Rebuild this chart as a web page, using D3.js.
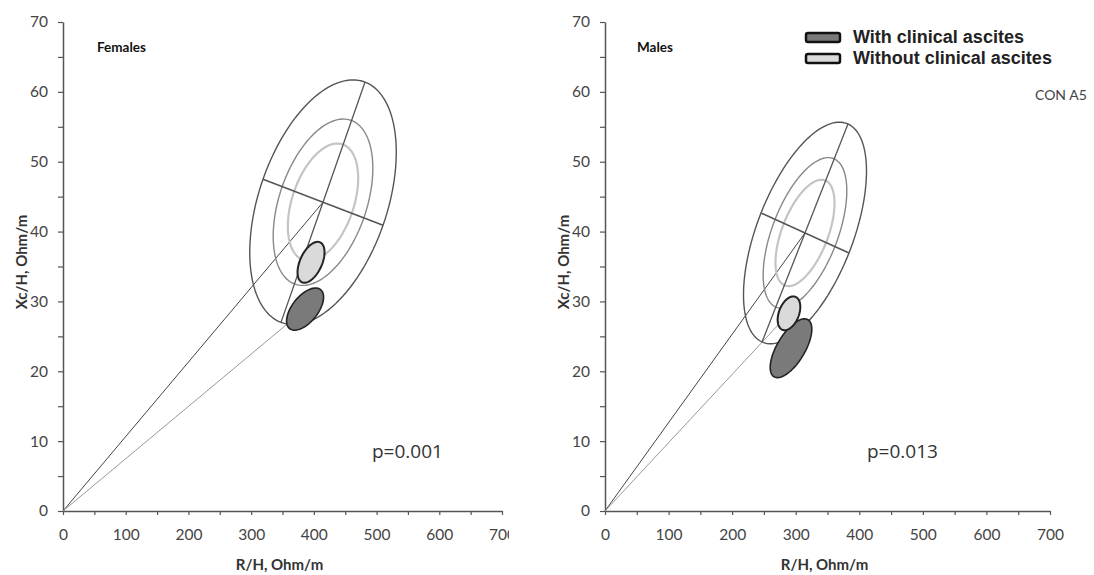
<!DOCTYPE html>
<html>
<head>
<meta charset="utf-8">
<script src="https://cdnjs.cloudflare.com/ajax/libs/d3/7.8.5/d3.min.js"></script>
<style>
  body { margin: 0; background: #fff; }
  svg { display: block; }
</style>
</head>
<body>
<script>
var width = 1094, height = 575;

// panels and their reference (tolerance) ellipses, in data units
var panels = ["Females", "Males"];
var pValues = ["p=0.001", "p=0.013"];
var refCenter = [[414.6, 44.2], [314.6, 39.8]];
var refMajor  = [[67.0, 17.2], [67.6, 15.6]];   // half-axis vector (to top)
var refMinor  = [[95.7, -3.3], [69.2, -2.86]];  // half-axis vector (to right)
var levels = [0.48, 0.68, 1];                   // 50%, 75%, 95% tolerance

// group confidence ellipses
var withCenter    = [[386.0, 28.9], [292.6, 23.3]];
var withMajor     = [[24.7, 2.79], [26.7, 4.08]];
var withMinor     = [[16.1, -1.15], [18.9, -1.03]];
var withoutCenter = [[395.5, 35.6], [289.4, 28.3]];
var withoutMajor  = [[14.4, 2.86], [10.2, 2.36]];
var withoutMinor  = [[16.0, -0.64], [14.6, -0.53]];

// second vector from origin
var lowerVector = [[386.0, 28.9], [289.4, 28.3]];

var xTicks = d3.range(0, 701, 50);
var yTicks = d3.range(0, 71, 5);

var legendLabels = ["With clinical ascites", "Without clinical ascites"];

var svg = d3.select("body").append("svg")
    .attr("width", width)
    .attr("height", height);

svg.append("defs").append("clipPath").attr("id", "clipLeft")
    .append("rect").attr("x", 0).attr("y", 0).attr("width", 509).attr("height", height);

var xRanges = [[63, 502], [605, 1050]];
var titleX = [97, 637];

function ellipsePath(x, y, c, u, v, k) {
  var pts = d3.range(0, 361, 3).map(function (a) {
    var t = a * Math.PI / 180;
    return [x(c[0] + k * (Math.cos(t) * u[0] + Math.sin(t) * v[0])),
            y(c[1] + k * (Math.cos(t) * u[1] + Math.sin(t) * v[1]))];
  });
  return d3.line().curve(d3.curveLinearClosed)(pts);
}

panels.forEach(function (name, i) {
  var g = svg.append("g").attr("class", "panel");
  if (i === 0) g.attr("clip-path", "url(#clipLeft)");

  var x = d3.scaleLinear().domain([0, 700]).range(xRanges[i]);
  var y = d3.scaleLinear().domain([0, 70]).range([511, 22]);

  // axes
  var xAxis = d3.axisBottom(x).tickValues(xTicks).tickSize(4).tickSizeOuter(0).tickPadding(13.5)
      .tickFormat(function (d) { return d % 100 === 0 ? d : ""; });
  var yAxis = d3.axisLeft(y).tickValues(yTicks).tickSize(5).tickSizeOuter(0).tickPadding(10)
      .tickFormat(function (d) { return d % 10 === 0 ? d : ""; });

  var gx = g.append("g").attr("transform", "translate(0," + y(0) + ")").call(xAxis);
  var gy = g.append("g").attr("transform", "translate(" + x(0) + ",0)").call(yAxis);
  [gx, gy].forEach(function (a) {
    a.select(".domain").attr("stroke", "#555").attr("stroke-width", 1.5);
    a.selectAll(".tick line").attr("stroke", "#555").attr("stroke-width", 1.2);
    a.selectAll(".tick text").attr("fill", "#444")
      .style("font-family", "Lato, 'Open Sans', sans-serif").style("font-size", "15.5px");
  });

  // axis titles
  g.append("text").attr("x", (xRanges[i][0] + xRanges[i][1]) / 2 - 3).attr("y", 570)
    .attr("text-anchor", "middle").attr("fill", "#333")
    .style("font-family", "Lato, sans-serif").style("font-weight", "bold").style("font-size", "15px")
    .text("R/H, Ohm/m");
  g.append("text")
    .attr("transform", "translate(" + (xRanges[i][0] - 36) + ",262) rotate(-90)")
    .attr("text-anchor", "middle").attr("fill", "#333")
    .style("font-family", "Lato, sans-serif").style("font-weight", "bold").style("font-size", "15px")
    .text("Xc/H, Ohm/m");

  g.append("text").attr("x", titleX[i]).attr("y", 52).attr("fill", "#111")
    .style("font-family", "Lato, sans-serif").style("font-weight", "bold").style("font-size", "13.5px")
    .text(name);

  // vectors from origin
  g.append("line")
    .attr("x1", x(0)).attr("y1", y(0))
    .attr("x2", x(refCenter[i][0])).attr("y2", y(refCenter[i][1]))
    .attr("stroke", "#444").attr("stroke-width", 1);
  g.append("line")
    .attr("x1", x(0)).attr("y1", y(0))
    .attr("x2", x(lowerVector[i][0])).attr("y2", y(lowerVector[i][1]))
    .attr("stroke", "#999").attr("stroke-width", 1);

  // tolerance ellipses
  var ellColors = ["#c4c4c4", "#888", "#555"];
  var ellWidths = [2.2, 1.4, 1.4];
  levels.forEach(function (k, j) {
    g.append("path")
      .attr("d", ellipsePath(x, y, refCenter[i], refMajor[i], refMinor[i], k))
      .attr("fill", "none").attr("stroke", ellColors[j]).attr("stroke-width", ellWidths[j]);
  });

  // ellipse axes
  var c = refCenter[i], u = refMajor[i], v = refMinor[i];
  g.append("line")
    .attr("x1", x(c[0] - u[0])).attr("y1", y(c[1] - u[1]))
    .attr("x2", x(c[0] + u[0])).attr("y2", y(c[1] + u[1]))
    .attr("stroke", "#555").attr("stroke-width", 1.3);
  g.append("line")
    .attr("x1", x(c[0] - v[0])).attr("y1", y(c[1] - v[1]))
    .attr("x2", x(c[0] + v[0])).attr("y2", y(c[1] + v[1]))
    .attr("stroke", "#555").attr("stroke-width", 1.5);

  // group ellipses
  g.append("path")
    .attr("d", ellipsePath(x, y, withCenter[i], withMajor[i], withMinor[i], 1))
    .attr("fill", "#7a7a7a").attr("stroke", "#222").attr("stroke-width", 1.6);
  g.append("path")
    .attr("d", ellipsePath(x, y, withoutCenter[i], withoutMajor[i], withoutMinor[i], 1))
    .attr("fill", "#dadada").attr("stroke", "#222").attr("stroke-width", 2);

  // p value
  g.append("text").attr("x", i === 0 ? 372 : 867).attr("y", 458).attr("fill", "#333")
    .style("font-family", "'Open Sans', sans-serif").style("font-size", "19px")
    .text(pValues[i]);
});

// legend
var legend = svg.append("g").attr("transform", "translate(805,32)");
var legendFill = ["#7a7a7a", "#dadada"];
legendLabels.forEach(function (lab, j) {
  legend.append("rect").attr("x", 1).attr("y", j * 21 + 1).attr("width", 34).attr("height", 9)
    .attr("rx", 2).attr("fill", legendFill[j]).attr("stroke", "#111").attr("stroke-width", 2.5);
  legend.append("text").attr("x", 48).attr("y", j * 21 + 11).attr("fill", "#222")
    .style("font-family", "'Liberation Sans', Arial, sans-serif").style("font-weight", "bold")
    .style("font-size", "18px")
    .text(lab);
});

svg.append("text").attr("x", 1035).attr("y", 100).attr("fill", "#444")
  .style("font-family", "Lato, sans-serif").style("font-size", "14px")
  .text("CON A5");
</script>
</body>
</html>
